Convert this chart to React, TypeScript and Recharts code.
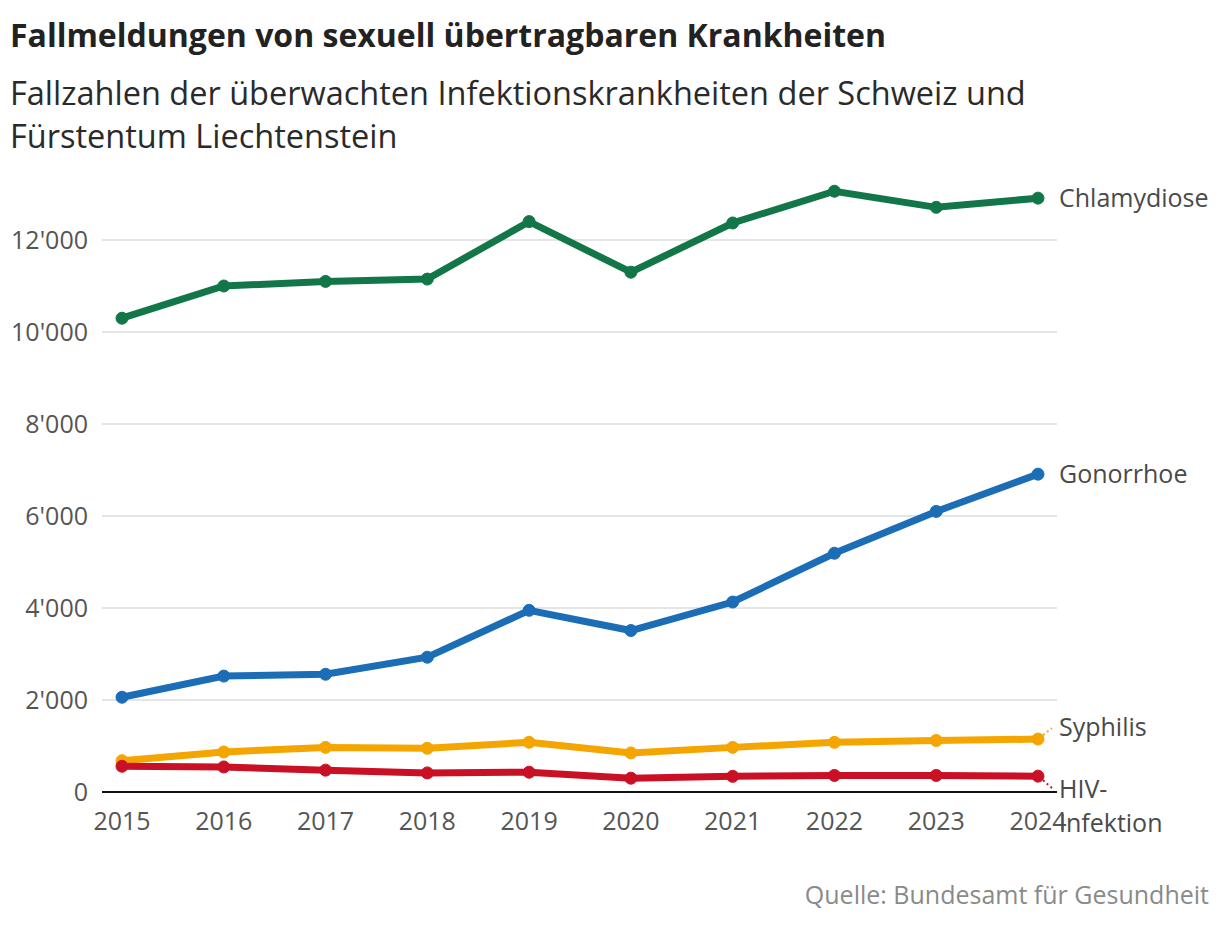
import React from 'react';
import { LineChart, Line, XAxis, YAxis, CartesianGrid, ReferenceLine } from 'recharts';

const years = ['2015', '2016', '2017', '2018', '2019', '2020', '2021', '2022', '2023', '2024'];
const chlamydiose = [10300, 11000, 11100, 11150, 12400, 11300, 12370, 13060, 12710, 12910];
const gonorrhoe = [2060, 2520, 2560, 2930, 3950, 3510, 4130, 5190, 6100, 6910];
const syphilis = [680, 870, 970, 950, 1080, 850, 970, 1080, 1120, 1150];
const hiv = [560, 545, 475, 415, 430, 300, 340, 360, 360, 345];
const yTicks = [0, 2000, 4000, 6000, 8000, 10000, 12000];

const data = years.map((y, i) => ({
  year: y,
  chlamydiose: chlamydiose[i],
  gonorrhoe: gonorrhoe[i],
  syphilis: syphilis[i],
  hiv: hiv[i],
}));

const FONT = '"Open Sans", "Noto Sans", sans-serif';
const LABEL_COLOR = '#4a4a4a';

const fmt = (v: number) => {
  if (v === 0) return '0';
  const s = String(v);
  return s.slice(0, s.length - 3) + "'" + s.slice(s.length - 3);
};

const makeLabel = (name: string, kind: 'plain' | 'up' | 'down', color: string) => (props: any) => {
  const { x, y, index } = props;
  if (index !== years.length - 1) return null;
  const tx = x + 21;
  const style = { fontFamily: FONT, fontSize: 25, fill: LABEL_COLOR } as any;
  if (kind === 'plain') {
    return (
      <text x={tx} y={y} dy="0.35em" style={style}>{name}</text>
    );
  }
  if (kind === 'up') {
    return (
      <g>
        <line x1={x + 5} y1={y - 4} x2={x + 14} y2={y - 11} stroke={color} strokeWidth={2} strokeDasharray="2 3" />
        <text x={tx} y={y - 12} dy="0.35em" style={style}>{name}</text>
      </g>
    );
  }
  return (
    <g>
      <line x1={x + 5} y1={y + 4} x2={x + 14} y2={y + 12} stroke={color} strokeWidth={2} strokeDasharray="2 3" />
      <text x={tx} y={y + 13} dy="0.35em" style={style}>HIV-</text>
      <text x={tx} y={y + 47} dy="0.35em" style={style}>Infektion</text>
    </g>
  );
};

const series = [
  { key: 'chlamydiose', name: 'Chlamydiose', color: '#137649', kind: 'plain' as const },
  { key: 'gonorrhoe', name: 'Gonorrhoe', color: '#1b6db5', kind: 'plain' as const },
  { key: 'syphilis', name: 'Syphilis', color: '#f5a500', kind: 'up' as const },
  { key: 'hiv', name: 'HIV-Infektion', color: '#c91024', kind: 'down' as const },
];

export default function App() {
  return (
    <div style={{ position: 'absolute', left: 0, top: 0, width: 1220, height: 930, background: '#fff', fontFamily: FONT }}>
      <div style={{ position: 'absolute', left: 10, top: 13, fontSize: 32, fontWeight: 700, color: '#222', whiteSpace: 'nowrap' }}>
        Fallmeldungen von sexuell übertragbaren Krankheiten
      </div>
      <div style={{ position: 'absolute', left: 10, top: 71, fontSize: 32.5, lineHeight: '43px', color: '#2a2a2a', width: 1180, whiteSpace: 'nowrap' }}>
        Fallzahlen der überwachten Infektionskrankheiten der Schweiz und<br />Fürstentum Liechtenstein
      </div>
      <div style={{ position: 'absolute', right: 11, top: 877, fontSize: 25, color: '#8a8a8a', whiteSpace: 'nowrap' }}>
        Quelle: Bundesamt für Gesundheit
      </div>
      <div style={{ position: 'absolute', left: 0, top: 0 }}>
        <LineChart width={1220} height={930} data={data} margin={{ top: 148, right: 163, bottom: 108, left: 0 }}>
          <CartesianGrid vertical={false} stroke="#dddddd" strokeWidth={1.5} horizontalValues={yTicks} />
          <XAxis
            dataKey="year"
            padding={{ left: 20, right: 19 }}
            axisLine={false}
            tickLine={false}
            height={30}
            tickMargin={14}
            tick={{ fontFamily: FONT, fontSize: 25, fill: '#555' }}
            interval={0}
          />
          <YAxis
            domain={[0, 14000]}
            ticks={yTicks}
            tickFormatter={fmt}
            axisLine={false}
            tickLine={false}
            width={102}
            tickMargin={8}
            tick={{ fontFamily: FONT, fontSize: 25, fill: '#555' }}
          />
          <ReferenceLine y={0} stroke="#111" strokeWidth={2} />
          {series.map((s) => (
            <Line
              key={s.key}
              dataKey={s.key}
              name={s.name}
              stroke={s.color}
              strokeWidth={7}
              dot={{ r: 6, fill: s.color, stroke: s.color, strokeWidth: 1 }}
              activeDot={false}
              isAnimationActive={false}
              label={makeLabel(s.name, s.kind, s.color)}
            />
          ))}
        </LineChart>
      </div>
    </div>
  );
}
